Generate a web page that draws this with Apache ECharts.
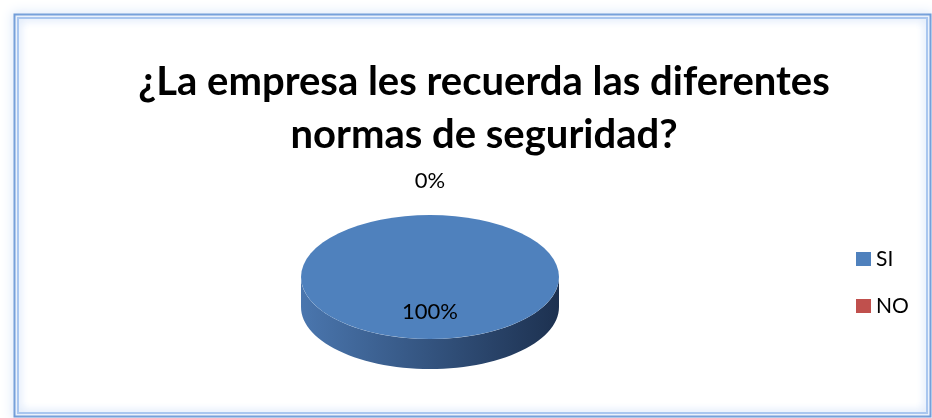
<!DOCTYPE html>
<html>
<head>
<meta charset="utf-8">
<script src="https://cdn.jsdelivr.net/npm/echarts@6/dist/echarts.min.js"></script>
<style>
  html, body { margin: 0; padding: 0; background: #fff; }
  #main { width: 932px; height: 418px; }
</style>
</head>
<body>
<div id="main"></div>
<script>
// datos
const categories = ['SI', 'NO'];
const percentValues = [100, 0];
const sliceColors = ['#4f81bd', '#c0504d'];
const sideColors = [['#4a76ae', '#1d3150'], ['#a84542', '#5a2221']];
const chartTitle = '¿La empresa les recuerda las diferentes\nnormas de seguridad?';

// geometría del pastel 3D
const cx = 430, cy = 277, rx = 129, ry = 62, depth = 30;

const total = percentValues.reduce((a, b) => a + b, 0);
const starts = [];
let acc = 0;
percentValues.forEach(v => { starts.push(acc); acc += v; });

const toAngle = v => -Math.PI / 2 + (v / total) * Math.PI * 2;
const pt = (a, dy) => [cx + rx * Math.cos(a), cy + ry * Math.sin(a) + (dy || 0)];

// dibuja una porción (cara lateral + cara superior + etiqueta)
const makeRenderItem = i => (params, api) => {
  const value = api.value(0);
  const a0 = toAngle(starts[i]);
  const a1 = toAngle(starts[i] + value);
  const children = [];

  // cara lateral: solo la parte frontal (angulos entre 0 y PI)
  for (let k = -1; k <= 1; k++) {
    const lo = Math.max(a0, k * 2 * Math.PI), hi = Math.min(a1, k * 2 * Math.PI + Math.PI);
    if (hi <= lo) continue;
    const top = [], bot = [];
    const n = 60;
    for (let s = 0; s <= n; s++) {
      const a = lo + (hi - lo) * s / n;
      top.push(pt(a));
      bot.push(pt(a, depth));
    }
    children.push({
      type: 'polygon',
      shape: { points: top.concat(bot.reverse()) },
      style: {
        fill: new echarts.graphic.LinearGradient(0, 0, 1, 0, [
          { offset: 0, color: sideColors[i][0] },
          { offset: 1, color: sideColors[i][1] }
        ])
      }
    });
  }

  // cara superior
  if (value > 0) {
    children.push({
      type: 'sector',
      x: cx, y: cy, scaleY: ry / rx,
      shape: { cx: 0, cy: 0, r0: 0, r: rx, startAngle: a0, endAngle: a1 },
      style: { fill: sliceColors[i] }
    });
  }

  // etiqueta
  const mid = (a0 + a1) / 2;
  const pos = value > 0
    ? [cx + rx * 0.56 * Math.cos(mid), cy + ry * 0.56 * Math.sin(mid)]
    : [cx + (rx + 30) * Math.cos(mid), cy + (ry + 34) * Math.sin(mid)];
  children.push({
    type: 'text',
    x: pos[0], y: pos[1],
    style: {
      text: Math.round(value / total * 100) + '%',
      fill: '#000', font: '22px Lato', align: 'center', verticalAlign: 'middle'
    }
  });

  return { type: 'group', children: children };
};

const myChart = echarts.init(document.getElementById('main'));
const option = {
  backgroundColor: '#fff',
  animation: false,
  color: sliceColors,
  title: {
    text: chartTitle,
    left: 479, top: 51, textAlign: 'center',
    textStyle: { fontFamily: 'Lato', fontWeight: 'bold', fontSize: 40, lineHeight: 53, color: '#000' }
  },
  legend: {
    orient: 'vertical',
    left: 856, top: 247, padding: 0,
    itemWidth: 15, itemHeight: 14, itemGap: 23,
    itemStyle: { borderWidth: 0 },
    icon: 'rect',
    textStyle: { fontFamily: 'Lato', fontSize: 21, lineHeight: 24, color: '#000' },
    data: categories
  },
  graphic: [
    {
      type: 'rect', z: -1, silent: true,
      shape: { x: 14.5, y: 14.5, width: 916, height: 402 },
      style: { fill: 'none', stroke: '#6b98d6', lineWidth: 2, shadowBlur: 12, shadowColor: '#9cbdee' }
    },
    {
      type: 'rect', z: -1, silent: true,
      shape: { x: 18, y: 18, width: 909, height: 395 },
      style: { fill: 'none', stroke: '#a9c6ef', lineWidth: 2, shadowBlur: 8, shadowColor: '#c6daf6' }
    }
  ],
  series: categories.map((c, i) => ({
    name: c,
    type: 'custom',
    coordinateSystem: 'none',
    renderItem: makeRenderItem(i),
    itemStyle: { color: sliceColors[i] },
    data: [[percentValues[i]]]
  }))
};
myChart.setOption(option);
</script>
</body>
</html>
